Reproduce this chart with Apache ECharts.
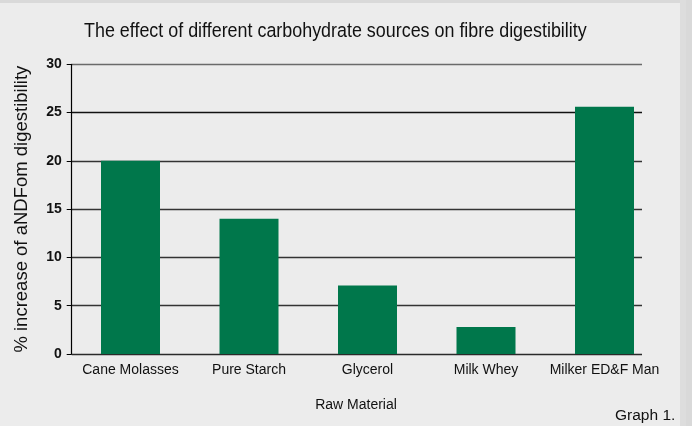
<!DOCTYPE html>
<html>
<head>
<meta charset="utf-8">
<script src="https://cdn.jsdelivr.net/npm/echarts@6/dist/echarts.min.js"></script>
<style>
html,body{margin:0;padding:0;background:#d6d6d6;}
#chart{width:692px;height:426px;}
</style>
</head>
<body>
<div id="chart"></div>
<script>
const titleText = 'The effect of different carbohydrate sources on fibre digestibility';
const categories = ['Cane Molasses', 'Pure Starch', 'Glycerol', 'Milk Whey', 'Milker ED&F Man'];
const values = [20.0, 14.0, 7.1, 2.8, 25.6];
const yTicks = [0, 5, 10, 15, 20, 25, 30];
const xAxisName = 'Raw Material';
const yAxisName = '% increase of aNDFom digestibility';
const footnote = 'Graph 1.';

const chart = echarts.init(document.getElementById('chart'), null, {renderer: 'canvas'});
const gTop = 64.3, gH = 289.7;
chart.setOption({
  backgroundColor: '#d9d9d9',
  animation: false,
  graphic: [
    {type: 'rect', z: -10, shape: {x: 0, y: 3, width: 680, height: 423}, style: {fill: '#ececec'}},
    {type: 'rect', z: -10, shape: {x: 680, y: 0, width: 6, height: 426}, style: {fill: '#dddddd'}},
    {type: 'text', x: 84, y: 20.5, scaleX: 0.873, style: {text: titleText, font: '20.5px "Liberation Sans", Arial, sans-serif', fill: '#111'}},
    {type: 'text', left: 615, top: 408, style: {text: footnote, font: '15.5px "Liberation Sans", Arial, sans-serif', fill: '#111'}}
  ],
  grid: [
    {left: 71.7, top: gTop, width: 570.3, height: gH},
    {left: 71.25, top: gTop, width: 592.5, height: gH}
  ],
  xAxis: [
    {type: 'category', gridIndex: 0, data: categories, show: false},
    {
      type: 'category', gridIndex: 1, data: categories,
      axisLine: {show: false}, axisTick: {show: false},
      axisLabel: {interval: 0, margin: 9, fontFamily: '"Liberation Sans", Arial, sans-serif', fontSize: 14, color: '#111'},
      name: xAxisName, nameLocation: 'middle', nameGap: 44,
      nameTextStyle: {fontFamily: '"Liberation Sans", Arial, sans-serif', fontSize: 14, color: '#111', padding: [0, 23, 0, 0]}
    }
  ],
  yAxis: [
    {
      type: 'value', gridIndex: 0, min: yTicks[0], max: yTicks[yTicks.length - 1], interval: 5,
      axisLine: {show: true, lineStyle: {color: '#000', width: 1.2}},
      axisTick: {show: true, length: 5, lineStyle: {color: '#000'}},
      axisLabel: {margin: 10, fontFamily: '"Liberation Sans", Arial, sans-serif', fontSize: 14, fontWeight: 'bold', color: '#111'},
      splitLine: {show: true, lineStyle: {color: ['#2a2a2a', '#333', '#333', '#333', '#333', '#111', '#6a6a6a'], width: 1.3}},
      name: yAxisName, nameLocation: 'middle', nameGap: 40,
      nameTextStyle: {fontFamily: '"Liberation Sans", Arial, sans-serif', fontSize: 18.5, color: '#111'}
    },
    {type: 'value', gridIndex: 1, min: yTicks[0], max: yTicks[yTicks.length - 1], show: false, splitLine: {show: false}}
  ],
  series: [{
    type: 'bar',
    xAxisIndex: 1, yAxisIndex: 1,
    data: values,
    barWidth: 59,
    itemStyle: {color: '#00774B'},
    z: 3
  }]
});
</script>
</body>
</html>
